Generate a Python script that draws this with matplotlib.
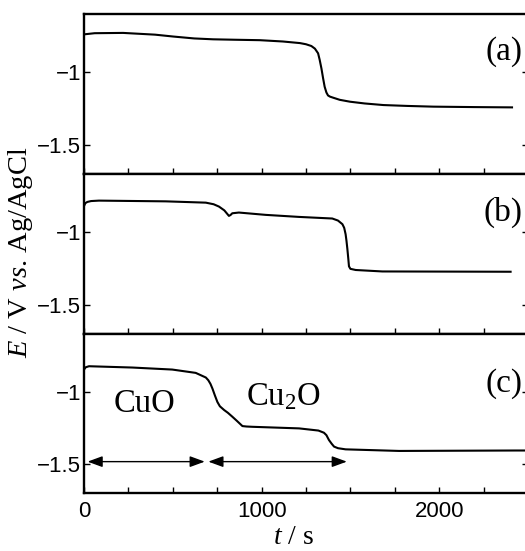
import matplotlib
matplotlib.use("Agg")
import matplotlib.pyplot as plt
from matplotlib.ticker import MultipleLocator

plt.rcParams['font.family'] = ['Liberation Sans', 'DejaVu Sans']
plt.rcParams['mathtext.fontset'] = 'custom'
plt.rcParams['mathtext.rm'] = 'Liberation Serif'
plt.rcParams['mathtext.it'] = 'Liberation Serif:italic'

# ---- data ----
t_a = [0, 60, 220, 400, 503, 620, 727, 850, 990, 1120, 1216, 1250, 1280, 1300, 1318, 1327,
       1337, 1346, 1355, 1365, 1374, 1385, 1402, 1440, 1498, 1580, 1686, 1820, 1967, 2200, 2410]
E_a = [-0.740, -0.732, -0.730, -0.742, -0.755, -0.768, -0.774, -0.777, -0.780, -0.789, -0.800,
       -0.808, -0.820, -0.838, -0.870, -0.915, -0.975, -1.040, -1.100, -1.140, -1.160, -1.168,
       -1.175, -1.190, -1.203, -1.215, -1.226, -1.232, -1.237, -1.240, -1.242]

t_b = [0, 8, 19, 40, 84, 460, 686, 730, 760, 790, 816, 825, 835, 872, 1023, 1210, 1398, 1430,
       1455, 1465, 1473, 1478, 1483, 1488, 1492, 1500, 1530, 1680, 2402]
E_b = [-0.820, -0.800, -0.792, -0.786, -0.783, -0.788, -0.797, -0.808, -0.824, -0.850, -0.888,
       -0.882, -0.870, -0.865, -0.881, -0.895, -0.906, -0.920, -0.945, -0.970, -1.014, -1.060,
       -1.116, -1.180, -1.235, -1.252, -1.260, -1.270, -1.272]

t_c = [0, 10, 28, 272, 497, 629, 686, 700, 712, 723, 737, 751, 765, 789, 810, 835, 860, 892,
       915, 948, 1211, 1320, 1351, 1365, 1379, 1395, 1408, 1430, 1473, 1774, 2430, 2500]
E_c = [-0.846, -0.830, -0.823, -0.832, -0.846, -0.869, -0.901, -0.920, -0.945, -0.977, -1.025,
       -1.070, -1.100, -1.126, -1.145, -1.172, -1.200, -1.237, -1.240, -1.242, -1.253, -1.268,
       -1.283, -1.300, -1.333, -1.360, -1.379, -1.390, -1.398, -1.409, -1.406, -1.406]

panel_labels = ['(a)', '(b)', '(c)']
panel_label_y = [-0.856, -0.863, -0.94]
yticks = [-1.5, -1.0]
ytick_labels = ['\u22121.5', '\u22121']
xticks = [0, 1000, 2000]

phase_names = ['CuO', 'Cu$_2$O']
phase_text_t = [338, 1122]
phase_text_E = [-1.138, -1.092]
arrow_spans = [(20, 680), (700, 1480)]
arrow_E = -1.483

# ---- figure ----
fig = plt.figure(figsize=(5.25, 5.51), dpi=100)
W, H = 525, 551
left_px, right_px = 84, 528
panels_px = [(14, 174), (174, 334), (334, 493)]

series = [(t_a, E_a), (t_b, E_b), (t_c, E_c)]
serif = 'Liberation Serif'
axes = []
for i, (top, bot) in enumerate(panels_px):
    ax = fig.add_axes([left_px / W, 1 - bot / H, (right_px - left_px) / W, (bot - top) / H])
    axes.append(ax)
    t, E = series[i]
    ax.plot(t, E, color='black', lw=1.5, solid_joinstyle='round')
    ax.set_xlim(0, 2500)
    ax.set_ylim(-1.7, -0.6)
    ax.set_yticks(yticks)
    ax.set_yticklabels(ytick_labels)
    ax.xaxis.set_major_locator(MultipleLocator(1000))
    ax.xaxis.set_minor_locator(MultipleLocator(250))
    ax.tick_params(axis='both', which='both', direction='in', labelsize=16, width=1.0)
    ax.tick_params(axis='y', which='major', length=4, pad=2, right=True)
    ax.tick_params(axis='x', which='major', length=4, pad=6)
    ax.tick_params(axis='x', which='minor', length=4, width=1.0)
    for s in ax.spines.values():
        s.set_linewidth(1.7)
    if i < 2:
        ax.tick_params(axis='x', which='both', labelbottom=False)
    else:
        ax.set_xticks(xticks)
        ax.set_xticklabels([str(v) for v in xticks])
    ax.text(2470, panel_label_y[i], panel_labels[i], family=serif, fontsize=24,
            ha='right', va='center')

axc = axes[2]
for name, tx, ey in zip(phase_names, phase_text_t, phase_text_E):
    axc.text(tx, ey, name, family=serif, fontsize=23.5, ha='center', va='baseline')
for (t0, t1) in arrow_spans:
    axc.annotate('', xy=(t1, arrow_E), xytext=(t0, arrow_E),
                 arrowprops=dict(arrowstyle='<|-|>,head_length=0.9,head_width=0.33',
                                 mutation_scale=10, color='black', lw=1.0,
                                 shrinkA=0, shrinkB=0))

fig.text(21 / W, 1 - 252 / H, r'$\mathit{E}$ / V $\mathit{vs}$. Ag/AgCl', family=serif,
         fontsize=20.5, rotation=90, ha='center', va='center')
fig.text(294 / W, 1 - 537 / H, r'$\mathit{t}$ / s', family=serif, fontsize=20,
         ha='center', va='center')

fig.savefig('out.png', dpi=100)
